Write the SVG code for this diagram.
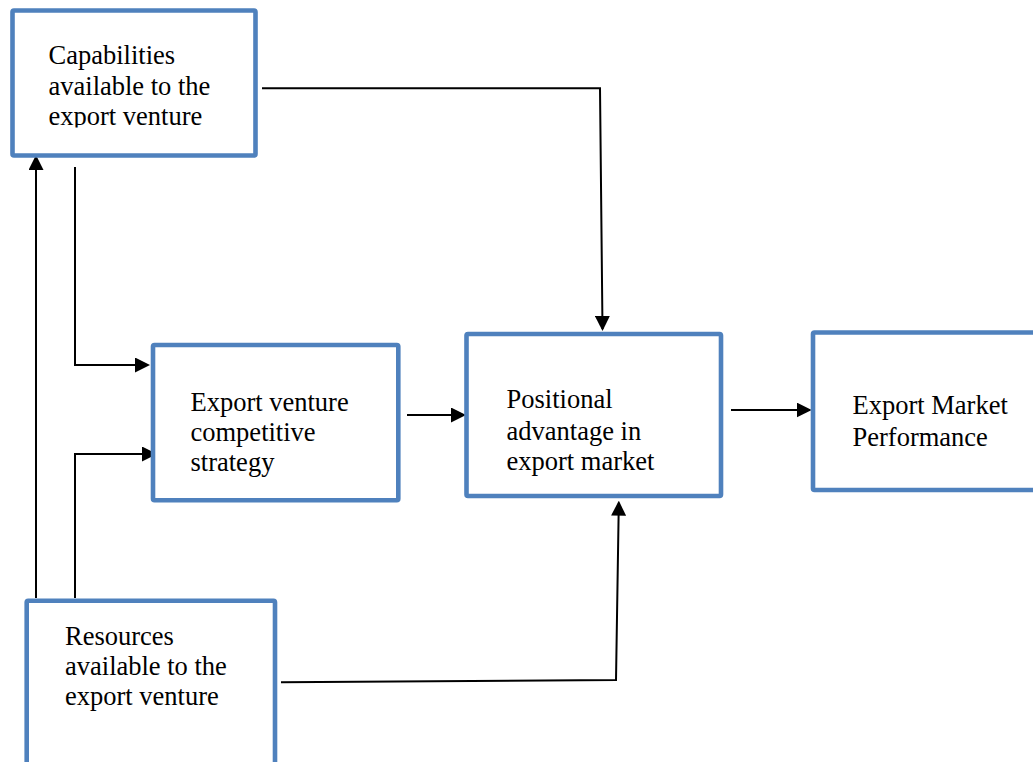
<svg xmlns="http://www.w3.org/2000/svg" width="1033" height="762" viewBox="0 0 1033 762">
  <style>
    .box { fill: #ffffff; stroke: #4F81BD; stroke-width: 4.6; }
    .label { font-family: "Liberation Serif", "Times New Roman", serif; font-size: 26.5px; fill: #000000; }
    .link { fill: none; stroke: #000000; stroke-width: 2; marker-end: url(#head); }
  </style>
  <defs>
    <marker id="head" viewBox="0 0 15 15" refX="13" refY="7.5" markerWidth="15" markerHeight="15" markerUnits="userSpaceOnUse" orient="auto">
      <path d="M0,0 L15,7.5 L0,15 Z" fill="#000000"/>
    </marker>
    <clipPath id="capClip">
      <rect x="15" y="13" width="238" height="114.5"/>
    </clipPath>
  </defs>
  <rect width="1033" height="762" fill="#ffffff"/>

  <!-- connectors -->
  <g id="connectors">
    <path class="link" d="M262,88.3 H600 L602.5,329" stroke-width="2.4"/>
    <path class="link" d="M75,167 V365 H148"/>
    <path class="link" d="M75,598 V454 H155"/>
    <path class="link" d="M36,598 V157" stroke-width="2.4"/>
    <path class="link" d="M407,415 H464"/>
    <path class="link" d="M731,410 H809.7"/>
    <path class="link" d="M281,682.3 L616,680 L618.8,502.7"/>
  </g>

  <g id="capabilities">
    <rect class="box" x="12.5" y="10.5" width="243" height="145" rx="1.5"/>
    <g clip-path="url(#capClip)">
      <text class="label" x="48.5" y="64">Capabilities</text>
      <text class="label" x="48.5" y="95">available to the</text>
      <text class="label" x="48.5" y="125">export venture</text>
    </g>
  </g>

  <g id="strategy">
    <rect class="box" x="153" y="345" width="245.3" height="155.3" rx="1.5"/>
    <text class="label" x="190.5" y="411">Export venture</text>
    <text class="label" x="190.5" y="441">competitive</text>
    <text class="label" x="190.5" y="470.5">strategy</text>
  </g>

  <g id="positional">
    <rect class="box" x="466.5" y="334" width="254.5" height="162" rx="1.5"/>
    <text class="label" x="506.5" y="408">Positional</text>
    <text class="label" x="506.5" y="439.5">advantage in</text>
    <text class="label" x="506.5" y="470">export market</text>
  </g>

  <g id="performance">
    <rect class="box" x="813" y="332.5" width="240" height="157.5" rx="1.5"/>
    <text class="label" x="852.5" y="414">Export Market</text>
    <text class="label" x="852.5" y="446">Performance</text>
  </g>

  <g id="resources">
    <rect class="box" x="26.7" y="600.7" width="248.3" height="180" rx="1.5"/>
    <text class="label" x="65" y="645">Resources</text>
    <text class="label" x="65" y="675">available to the</text>
    <text class="label" x="65" y="705">export venture</text>
  </g>
</svg>
